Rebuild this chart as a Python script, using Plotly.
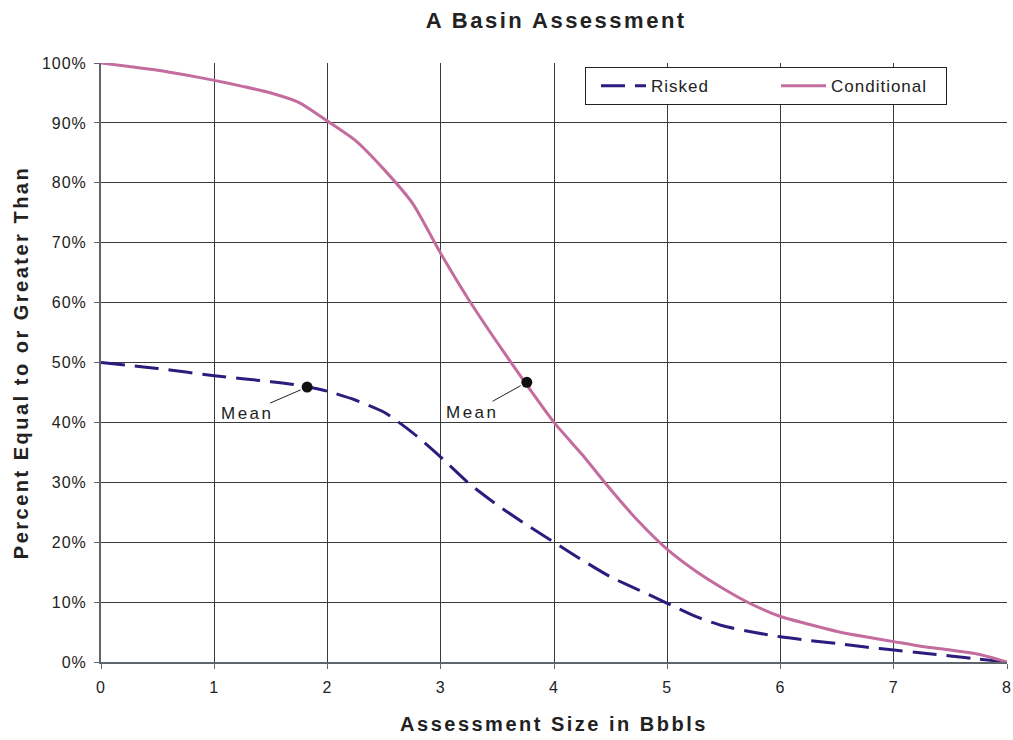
import plotly.graph_objects as go

# Data
cond_x = [0, 0.25, 0.5, 0.75, 1.0, 1.25, 1.5, 1.75, 2.0, 2.25, 2.5, 2.75, 3.0, 3.25, 3.5,
          3.75, 4.0, 4.25, 4.5, 4.75, 5.0, 5.25, 5.5, 5.75, 6.0, 6.25, 6.5, 6.75, 7.0, 7.25,
          7.5, 7.75, 8.0]
cond_y = [100, 99.4, 98.8, 98.0, 97.1, 96.1, 95.0, 93.4, 90.3, 87.0, 82.2, 76.6, 68.2, 60.4, 53.3,
          46.5, 40.0, 34.6, 28.8, 23.4, 18.8, 15.2, 12.2, 9.6, 7.6, 6.3, 5.1, 4.2, 3.4, 2.6,
          2.0, 1.3, 0.0]

risk_x = [0, 0.25, 0.5, 0.75, 1.0, 1.25, 1.5, 1.75, 2.0, 2.25, 2.5, 2.75, 3.0, 3.25, 3.5,
          3.75, 4.0, 4.25, 4.5, 4.75, 5.0, 5.25, 5.5, 5.75, 6.0, 6.25, 6.5, 6.75, 7.0, 7.25,
          7.5, 7.75, 8.0]
risk_y = [50, 49.5, 49.0, 48.4, 47.8, 47.3, 46.8, 46.2, 45.2, 43.7, 41.7, 38.3, 34.2, 29.8, 26.2,
          23.0, 20.0, 17.0, 14.2, 12.0, 9.8, 7.6, 6.0, 5.0, 4.2, 3.6, 3.1, 2.5, 2.0, 1.5,
          1.0, 0.5, 0.0]

mean_x = [1.82, 3.76]
mean_y = [45.9, 46.7]
mean_labels = ["Mean", "Mean"]

x_ticks = [0, 1, 2, 3, 4, 5, 6, 7, 8]
y_ticks = [0, 10, 20, 30, 40, 50, 60, 70, 80, 90, 100]
y_tick_labels = [f"{v}%" for v in y_ticks]

RISK_COLOR = "#2D1B7E"
COND_COLOR = "#C46C9E"
TEXT_COLOR = "#222222"
FONT = "Liberation Sans, Arial, sans-serif"

fig = go.Figure()

fig.add_trace(go.Scatter(
    x=risk_x, y=risk_y, mode="lines", name="Risked",
    line=dict(color=RISK_COLOR, width=3, dash="24px,10px", shape="spline", smoothing=0.6),
    cliponaxis=False,
))
fig.add_trace(go.Scatter(
    x=cond_x, y=cond_y, mode="lines", name="Conditional",
    line=dict(color=COND_COLOR, width=3, shape="spline", smoothing=0.6),
    cliponaxis=False,
))
fig.add_trace(go.Scatter(
    x=mean_x, y=mean_y, mode="markers", showlegend=False,
    marker=dict(color="#111111", size=11),
))

label_offsets = [(-60, 26), (-54, 30)]
for mx, my, lab, (dx, dy) in zip(mean_x, mean_y, mean_labels, label_offsets):
    fig.add_annotation(
        x=mx, y=my, text=lab, showarrow=True, arrowhead=0, arrowwidth=1,
        arrowcolor=TEXT_COLOR, ax=dx, ay=dy, standoff=7,
        font=dict(family=FONT, size=17, color=TEXT_COLOR),
        xanchor="center", yanchor="middle",
    )

fig.update_layout(
    width=1013, height=740,
    margin=dict(l=101, r=6, t=63, b=78),
    paper_bgcolor="white", plot_bgcolor="white",
    font=dict(family=FONT, size=16, color=TEXT_COLOR),
    title=dict(text="<b>A Basin Assessment</b>", x=0.549, xanchor="center",
               y=0.972, yanchor="middle",
               font=dict(family=FONT, size=22, color=TEXT_COLOR)),
    showlegend=True,
    legend=dict(
        orientation="h", x=0.5342, y=0.993, xanchor="left", yanchor="top",
        bgcolor="white", bordercolor=TEXT_COLOR, borderwidth=1,
        font=dict(family=FONT, size=17, color=TEXT_COLOR),
        indentation=10, itemwidth=45, entrywidth=110, entrywidthmode="pixels",
        traceorder="normal",
    ),
)

fig.update_xaxes(
    range=[0, 8], tickvals=x_ticks, ticktext=[str(v) for v in x_ticks],
    showgrid=True, gridcolor="#3a3a3a", gridwidth=1,
    showline=True, linecolor="#5f666b", linewidth=2, mirror=False,
    ticks="outside", ticklen=5, tickcolor="#5f666b", tickwidth=1,
    zeroline=False, ticklabelstandoff=5, automargin=False,
    tickfont=dict(family=FONT, size=16, color=TEXT_COLOR),
    title=dict(text="<b>Assessment Size in Bbbls</b>", standoff=22,
               font=dict(family=FONT, size=20, color=TEXT_COLOR)),
)
fig.update_yaxes(
    range=[0, 100], tickvals=y_ticks, ticktext=y_tick_labels,
    showgrid=True, gridcolor="#3a3a3a", gridwidth=1,
    showline=True, linecolor="#5f666b", linewidth=2, mirror=False,
    ticks="outside", ticklen=5, tickcolor="#5f666b", tickwidth=1,
    zeroline=False, ticklabelstandoff=4, automargin=False,
    tickfont=dict(family=FONT, size=16, color=TEXT_COLOR),
    title=dict(text="<b>Percent Equal to or Greater Than</b>", standoff=12,
               font=dict(family=FONT, size=20, color=TEXT_COLOR)),
)

post = """
document.body.style.margin = '0';
function spaceText(sel, px) {
  document.querySelectorAll(sel).forEach(function (el) { el.style.letterSpacing = px; });
}
spaceText('.gtitle', '2.5px');
spaceText('.xtitle', '2.5px');
spaceText('.ytitle', '2.5px');
spaceText('.xtick text', '1px');
spaceText('.ytick text', '1px');
spaceText('.annotation-text', '2.5px');
spaceText('.legendtext', '1px');
"""

fig.write_html("out.html", post_script=post, config={"displayModeBar": False})
